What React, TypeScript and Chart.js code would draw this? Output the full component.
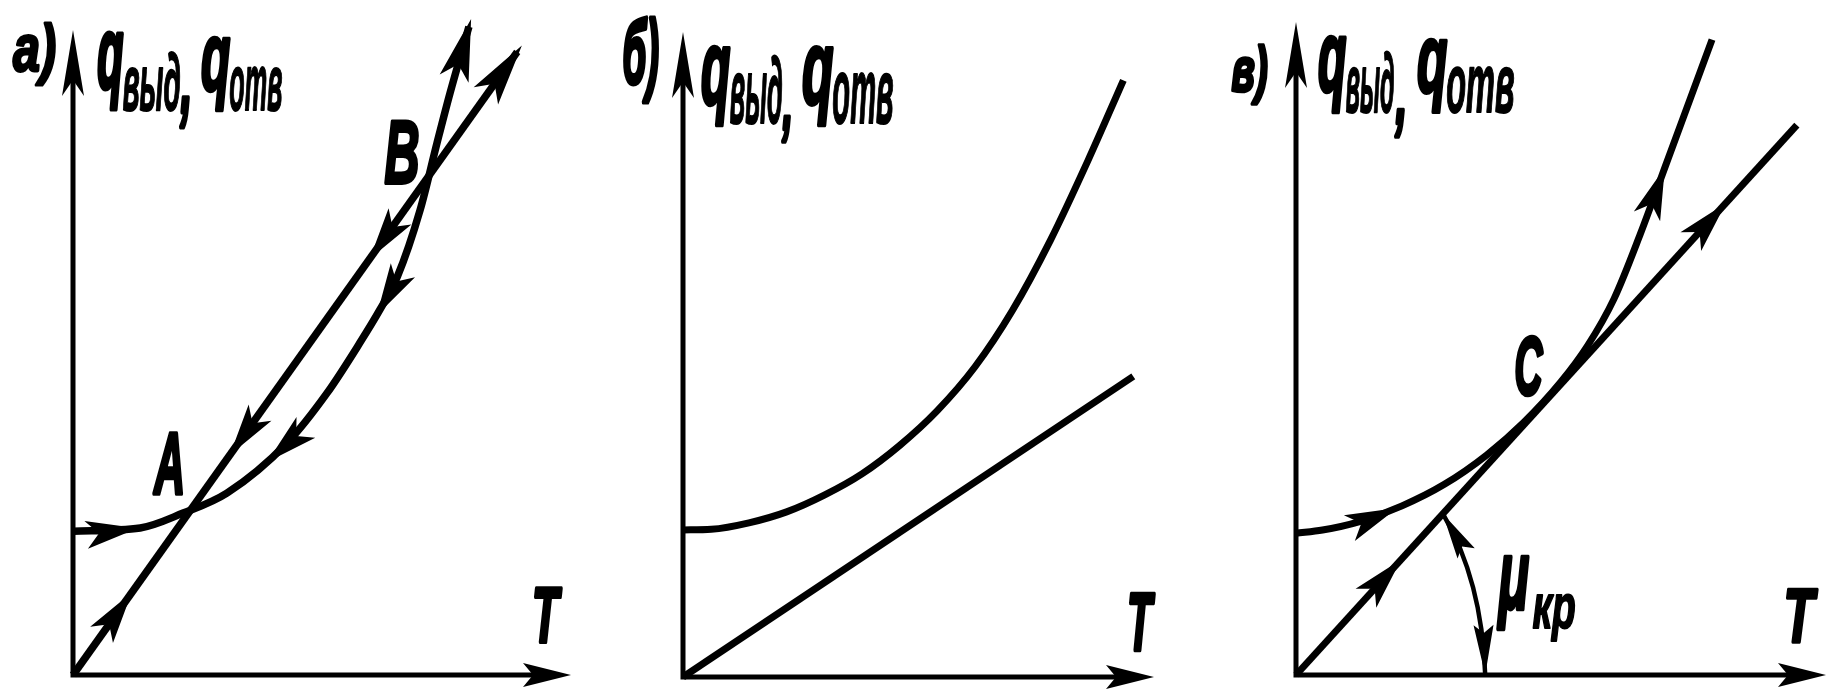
import React, { useEffect, useRef } from "react";
import { Chart, registerables } from "chart.js";

Chart.register(...registerables);

// ---------------- data (relative units: axis arrow tips = 100) ----------------
// Panel а: heat generation q_выд(T) and heat removal q_отв(T)
const A_GEN_T = [0, 13.5, 22.1, 30.9, 43.0, 51.0, 57.6, 61.6, 65.1, 69.7, 73.1, 75.7, 79.5];
const A_GEN_Q = [22.3, 22.8, 25.1, 28.2, 36.0, 43.7, 51.5, 56.6, 61.7, 72.1, 82.5, 90.2, 100.5];
const A_REM_T = [0, 89.2];
const A_REM_Q = [0, 96.6];
// Panel б
const B_GEN_T = [0, 6, 14, 22, 30, 38, 46, 54, 62, 70, 78, 86, 93.5];
const B_GEN_Q = [22.8, 22.9, 23.9, 25.6, 28.2, 31.5, 35.9, 41.3, 48.1, 56.9, 67.7, 80.1, 92.5];
const B_REM_T = [0, 95.6];
const B_REM_Q = [0, 46.6];
// Panel в
const V_GEN_T = [0, 5, 12, 20, 28, 36, 43, 50, 55, 60, 65, 70, 74.5, 78.5];
const V_GEN_Q = [21.7, 22.2, 23.5, 25.9, 29.2, 33.7, 38.7, 44.9, 50.4, 57.6, 67.6, 78.6, 88.5, 97.3];
const V_REM_T = [0, 94.5];
const V_REM_Q = [0, 84.2];
// angle arc μкр (start on q_отв line, control point, end on T axis)
const V_ARC_T = [27.7, 35.1, 35.7];
const V_ARC_Q = [24.7, 14.5, 0];

// direction arrows along the lines: T position, dir (+1 along rising T)
const A_GEN_ARROWS = [{ t: 13, dir: 1 }, { t: 39, dir: -1 }, { t: 61, dir: -1 }];
const A_REM_ARROWS = [{ t: 11.8, dir: 1 }, { t: 31.5, dir: -1 }, { t: 59.6, dir: -1 }];
const V_GEN_ARROWS = [{ t: 19.1, dir: 1 }, { t: 69.6, dir: 1 }];
const V_REM_ARROWS = [{ t: 19.8, dir: 1 }, { t: 81.1, dir: 1 }];

const FAMILY = '"Liberation Sans", "DejaVu Sans", sans-serif';

type Ink = [string, number, number, number, number];
type Base = [string, number, number, number, number];

interface PanelCfg {
  left: number;
  width: number;
  pad: { left: number; right: number; top: number; bottom: number };
  gen: { x: number; y: number }[];
  rem: { x: number; y: number }[];
  lw: number;
  genArrows: { t: number; dir: number }[];
  remArrows: { t: number; dir: number }[];
  genEnd: boolean;
  remEnd: boolean;
  arc?: { x: number; y: number }[];
  ink: Ink[];
  base: Base[];
}

const zip = (a: number[], b: number[]) => a.map((x, i) => ({ x, y: b[i] }));

const PANELS: PanelCfg[] = [
  {
    left: 0,
    width: 615,
    pad: { left: 73, right: 44, top: 30, bottom: 19 },
    gen: zip(A_GEN_T, A_GEN_Q),
    rem: zip(A_REM_T, A_REM_Q),
    lw: 7.5,
    genArrows: A_GEN_ARROWS,
    remArrows: A_REM_ARROWS,
    genEnd: true,
    remEnd: true,
    ink: [
      ["а)", 13, 22, 55, 85],
      ["q", 98, 33, 123, 110],
      [",", 180, 97, 189, 127],
      ["q", 202, 38, 230, 110],
      ["A", 153, 432, 182, 493],
      ["B", 385, 122, 418, 183],
      ["T", 535, 587, 562, 642],
    ],
    base: [
      ["выд", 123, 180, 110, 43],
      ["отв", 230, 282, 110, 43],
    ],
  },
  {
    left: 615,
    width: 615,
    pad: { left: 68, right: 76, top: 32, bottom: 17 },
    gen: zip(B_GEN_T, B_GEN_Q),
    rem: zip(B_REM_T, B_REM_Q),
    lw: 7,
    genArrows: [],
    remArrows: [],
    genEnd: false,
    remEnd: false,
    ink: [
      ["б)", 624, 18, 658, 102],
      ["q", 702, 47, 730, 125],
      [",", 782, 117, 790, 142],
      ["q", 803, 47, 833, 125],
      ["T", 1130, 593, 1155, 650],
    ],
    base: [
      ["выд", 730, 782, 123, 50],
      ["отв", 833, 893, 123, 50],
    ],
  },
  {
    left: 1230,
    width: 607,
    pad: { left: 66, right: 11, top: 22, bottom: 19 },
    gen: zip(V_GEN_T, V_GEN_Q),
    rem: zip(V_REM_T, V_REM_Q),
    lw: 7,
    genArrows: V_GEN_ARROWS,
    remArrows: V_REM_ARROWS,
    genEnd: false,
    remEnd: false,
    arc: zip(V_ARC_T, V_ARC_Q),
    ink: [
      ["в)", 1232, 44, 1267, 104],
      ["q", 1319, 37, 1346, 112],
      [",", 1395, 110, 1404, 137],
      ["q", 1418, 40, 1447, 112],
      ["C", 1516, 337, 1543, 395],
      ["μ", 1497, 557, 1529, 630],
      ["T", 1787, 589, 1818, 642],
    ],
    base: [
      ["выд", 1346, 1394, 112, 45],
      ["отв", 1447, 1514, 112, 45],
      ["кр", 1533, 1575, 628, 34],
    ],
  },
];

// ---------------- drawing helpers ----------------
function arrowHead(
  ctx: CanvasRenderingContext2D,
  x: number,
  y: number,
  dx: number,
  dy: number,
  len: number,
  hw: number,
  notch: number
) {
  const n = Math.hypot(dx, dy) || 1;
  const ux = dx / n,
    uy = dy / n;
  const vx = -uy,
    vy = ux;
  ctx.beginPath();
  ctx.moveTo(x, y);
  ctx.lineTo(x - ux * len + vx * hw, y - uy * len + vy * hw);
  ctx.lineTo(x - ux * (len - notch), y - uy * (len - notch));
  ctx.lineTo(x - ux * len - vx * hw, y - uy * len - vy * hw);
  ctx.closePath();
  ctx.fill();
}

function bez(p: number[][], s: number) {
  const m = 1 - s;
  const a = m * m * m,
    b = 3 * m * m * s,
    c = 3 * m * s * s,
    d = s * s * s;
  return [
    a * p[0][0] + b * p[1][0] + c * p[2][0] + d * p[3][0],
    a * p[0][1] + b * p[1][1] + c * p[2][1] + d * p[3][1],
  ];
}
function bezD(p: number[][], s: number) {
  const m = 1 - s;
  return [
    3 * m * m * (p[1][0] - p[0][0]) + 6 * m * s * (p[2][0] - p[1][0]) + 3 * s * s * (p[3][0] - p[2][0]),
    3 * m * m * (p[1][1] - p[0][1]) + 6 * m * s * (p[2][1] - p[1][1]) + 3 * s * s * (p[3][1] - p[2][1]),
  ];
}
function segCtrl(a: any, b: any) {
  const curved = a.cp2x !== undefined && b.cp1x !== undefined;
  return [
    [a.x, a.y],
    curved ? [a.cp2x, a.cp2y] : [a.x + (b.x - a.x) / 3, a.y + (b.y - a.y) / 3],
    curved ? [b.cp1x, b.cp1y] : [a.x + (2 * (b.x - a.x)) / 3, a.y + (2 * (b.y - a.y)) / 3],
    [b.x, b.y],
  ];
}
function locate(chart: Chart, ds: number, t: number) {
  const pts = chart.getDatasetMeta(ds).data as any[];
  const px = chart.scales.x.getPixelForValue(t);
  for (let i = 0; i < pts.length - 1; i++) {
    const a = pts[i],
      b = pts[i + 1];
    if (px >= a.x && px <= b.x) {
      const P = segCtrl(a, b);
      let lo = 0,
        hi = 1;
      for (let k = 0; k < 40; k++) {
        const mid = (lo + hi) / 2;
        if (bez(P, mid)[0] < px) lo = mid;
        else hi = mid;
      }
      const s = (lo + hi) / 2;
      const p = bez(P, s);
      let d = bezD(P, s);
      if (Math.hypot(d[0], d[1]) < 1e-6) d = [b.x - a.x, b.y - a.y];
      return { x: p[0], y: p[1], dx: d[0], dy: d[1] };
    }
  }
  return null;
}
function endOf(chart: Chart, ds: number) {
  const pts = chart.getDatasetMeta(ds).data as any[];
  const a = pts[pts.length - 2],
    b = pts[pts.length - 1];
  const P = segCtrl(a, b);
  let d = [P[3][0] - P[2][0], P[3][1] - P[2][1]];
  if (Math.hypot(d[0], d[1]) < 1e-6) d = [b.x - a.x, b.y - a.y];
  return { x: b.x, y: b.y, dx: d[0], dy: d[1] };
}

function fitInk(ctx: CanvasRenderingContext2D, text: string, x0: number, y0: number, x1: number, y1: number) {
  ctx.save();
  ctx.font = `italic bold 100px ${FAMILY}`;
  ctx.textAlign = "left";
  ctx.textBaseline = "alphabetic";
  const m = ctx.measureText(text);
  const l = m.actualBoundingBoxLeft,
    r = m.actualBoundingBoxRight;
  const asc = m.actualBoundingBoxAscent,
    desc = m.actualBoundingBoxDescent;
  const sx = (x1 - x0) / (l + r),
    sy = (y1 - y0) / (asc + desc);
  ctx.translate(x0, y0);
  ctx.scale(sx, sy);
  ctx.lineWidth = 2.2 / Math.min(sx, sy);
  ctx.lineJoin = "round";
  ctx.strokeText(text, l, asc);
  ctx.fillText(text, l, asc);
  ctx.restore();
}

function fitBase(ctx: CanvasRenderingContext2D, text: string, x0: number, x1: number, baseline: number, xh: number) {
  ctx.save();
  ctx.font = `italic bold 100px ${FAMILY}`;
  const xm = ctx.measureText("x").actualBoundingBoxAscent || 52;
  const size = (xh / xm) * 100;
  ctx.font = `italic bold ${size}px ${FAMILY}`;
  ctx.textAlign = "left";
  ctx.textBaseline = "alphabetic";
  const m = ctx.measureText(text);
  const l = m.actualBoundingBoxLeft,
    r = m.actualBoundingBoxRight;
  const sx = (x1 - x0) / (l + r);
  ctx.translate(x0, baseline);
  ctx.scale(sx, 1);
  ctx.lineWidth = 2;
  ctx.lineJoin = "round";
  ctx.strokeText(text, l, 0);
  ctx.fillText(text, l, 0);
  ctx.restore();
}

function makeDecor(cfg: PanelCfg) {
  return {
    id: "decor",
    afterDatasetsDraw(chart: Chart) {
      const ctx = chart.ctx;
      const xs = chart.scales.x,
        ys = chart.scales.y;
      const ox = xs.getPixelForValue(0),
        oy = ys.getPixelForValue(0);
      const xt = xs.getPixelForValue(100),
        yt = ys.getPixelForValue(100);
      ctx.save();
      ctx.fillStyle = "#000";
      ctx.strokeStyle = "#000";
      // axes
      ctx.lineWidth = 5;
      ctx.lineCap = "butt";
      ctx.beginPath();
      ctx.moveTo(ox, oy + 2.5);
      ctx.lineTo(ox, yt + 30);
      ctx.moveTo(ox - 2.5, oy);
      ctx.lineTo(xt - 25, oy);
      ctx.stroke();
      arrowHead(ctx, ox, yt, 0, -1, 66, 11, 16);
      arrowHead(ctx, xt, oy, 1, 0, 48, 12, 10);

      // arrows on curves
      const put = (list: { t: number; dir: number }[], ds: number) => {
        for (const a of list) {
          const p = locate(chart, ds, a.t);
          if (p) arrowHead(ctx, p.x, p.y, p.dx * a.dir, p.dy * a.dir, 52, 14, 13);
        }
      };
      put(cfg.genArrows, 0);
      put(cfg.remArrows, 1);
      const endArrow = (ds: number) => {
        const e = endOf(chart, ds);
        const n = Math.hypot(e.dx, e.dy);
        arrowHead(ctx, e.x + (e.dx / n) * 8, e.y + (e.dy / n) * 8, e.dx, e.dy, 62, 15, 15);
      };
      if (cfg.genEnd) endArrow(0);
      if (cfg.remEnd) endArrow(1);

      // angle arc
      if (cfg.arc) {
        const P = cfg.arc.map((p) => [xs.getPixelForValue(p.x), ys.getPixelForValue(p.y)]);
        ctx.lineWidth = 4.5;
        ctx.beginPath();
        ctx.moveTo(P[0][0], P[0][1]);
        ctx.quadraticCurveTo(P[1][0], P[1][1], P[2][0], P[2][1]);
        ctx.stroke();
        arrowHead(ctx, P[0][0], P[0][1], P[0][0] - P[1][0], P[0][1] - P[1][1], 46, 10, 8);
        arrowHead(ctx, P[2][0], P[2][1], P[2][0] - P[1][0], P[2][1] - P[1][1], 50, 10, 8);
      }

      // texts
      for (const [t, x0, y0, x1, y1] of cfg.ink) fitInk(ctx, t, x0 - cfg.left, y0, x1 - cfg.left, y1);
      for (const [t, x0, x1, b, xh] of cfg.base) fitBase(ctx, t, x0 - cfg.left, x1 - cfg.left, b, xh);
      ctx.restore();
    },
  };
}

function Panel({ cfg }: { cfg: PanelCfg }) {
  const ref = useRef<HTMLCanvasElement>(null);
  useEffect(() => {
    const canvas = ref.current!;
    const chart = new Chart(canvas, {
      type: "line",
      data: {
        datasets: [
          {
            label: "q выд",
            data: cfg.gen,
            borderColor: "#000",
            borderWidth: cfg.lw,
            pointRadius: 0,
            cubicInterpolationMode: "monotone",
            fill: false,
            clip: false as any,
          },
          {
            label: "q отв",
            data: cfg.rem,
            borderColor: "#000",
            borderWidth: cfg.lw,
            pointRadius: 0,
            tension: 0,
            fill: false,
            clip: false as any,
          },
        ],
      },
      options: {
        animation: false,
        responsive: false,
        devicePixelRatio: 1,
        events: [],
        layout: { padding: cfg.pad },
        plugins: { legend: { display: false }, tooltip: { enabled: false }, title: { display: false } },
        scales: {
          x: { type: "linear", min: 0, max: 100, display: false },
          y: { type: "linear", min: 0, max: 100, display: false },
        },
      },
      plugins: [makeDecor(cfg) as any],
    });
    return () => chart.destroy();
  }, [cfg]);
  return (
    <canvas
      ref={ref}
      width={cfg.width}
      height={694}
      style={{ position: "absolute", left: cfg.left, top: 0, width: cfg.width, height: 694 }}
    />
  );
}

export default function App() {
  return (
    <div style={{ position: "absolute", left: 0, top: 0, width: 1837, height: 694, background: "#fff", overflow: "hidden" }}>
      {PANELS.map((p, i) => (
        <Panel key={i} cfg={p} />
      ))}
    </div>
  );
}
